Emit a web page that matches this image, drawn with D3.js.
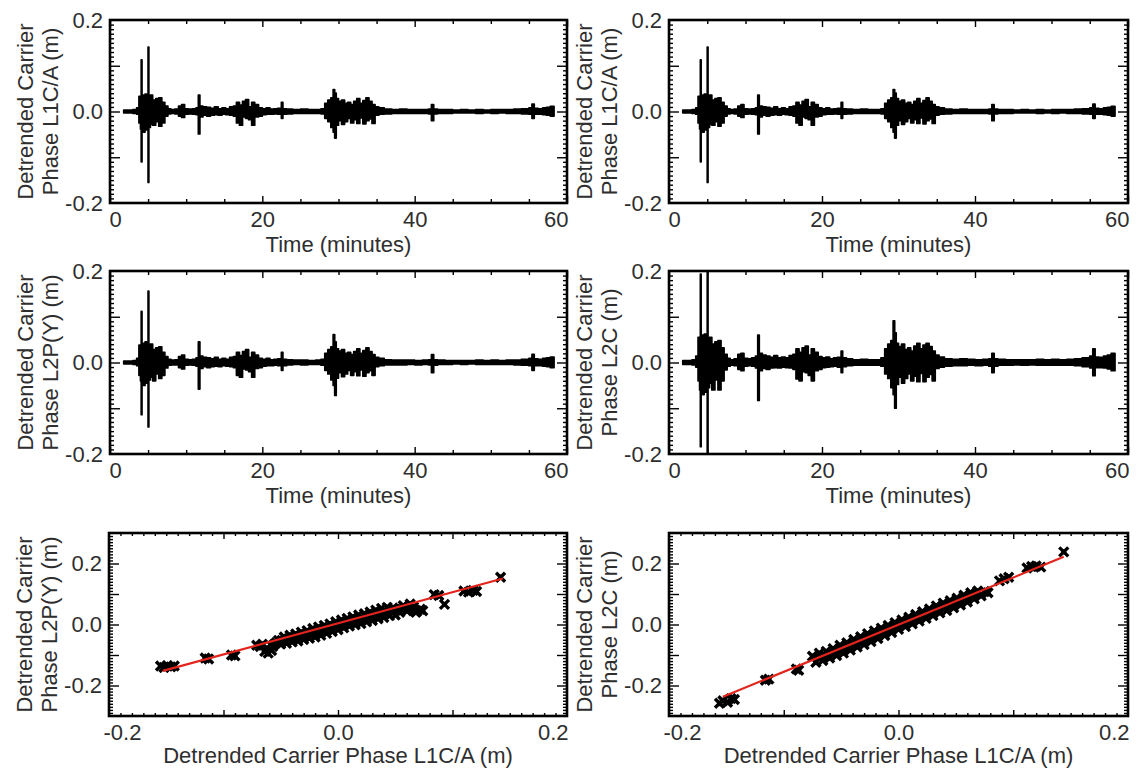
<!DOCTYPE html>
<html>
<head>
<meta charset="utf-8">
<script src="https://cdn.jsdelivr.net/npm/d3@7"></script>
<style>
  body { margin: 0; background: #fff; }
  text { font-family: "Liberation Sans", Arial, sans-serif; }
</style>
</head>
<body>
<svg id="fig" width="1139" height="771"></svg>
<script>
// time axis samples (minutes) and envelope of the detrended phase (mm)
const minutes = [1.8, 2.4, 3.0, 3.5, 3.8, 4.0, 4.1, 4.2, 4.4, 4.6, 4.8, 5.0, 5.1, 5.3, 5.6,
  6.0, 6.4, 6.8, 7.2, 7.6, 8.0, 8.5, 9.0, 9.4, 9.8, 10.3, 10.8, 11.3, 11.6, 11.8,
  12.2, 12.7, 13.2, 13.7, 14.2, 14.7, 15.2, 15.7, 16.2, 16.6, 17.0, 17.4, 17.8, 18.2, 18.6,
  19.0, 19.5, 20.0, 20.5, 21.0, 21.5, 22.0, 22.5, 22.7, 23.2, 24.0, 25.0, 26.0, 27.0, 27.7,
  28.2, 28.6, 29.0, 29.3, 29.5, 29.7, 30.0, 30.4, 30.8, 31.2, 31.6, 32.0, 32.4, 32.8, 33.2,
  33.6, 34.0, 34.4, 34.8, 35.3, 36.0, 37.0, 38.0, 39.0, 40.0, 41.0, 41.8, 42.2, 42.5, 43.0,
  44.0, 45.0, 46.0, 47.0, 48.0, 49.0, 50.0, 51.0, 52.0, 53.0, 54.0, 55.0, 55.4, 55.7, 56.2,
  56.8, 57.3, 57.8, 58.3];

const l1Upper = [3, 3, 4, 8, 33, 30, 113, 36, 30, 38, 34, 141, 30, 36, 25,
  28, 30, 20, 12, 6, 4, 5, 12, 15, 6, 5, 6, 8, 36, 12,
  10, 9, 7, 10, 6, 8, 6, 10, 12, 20, 14, 22, 26, 10, 20,
  15, 8, 6, 8, 5, 6, 7, 20, 6, 5, 4, 5, 4, 4, 6,
  18, 25, 30, 48, 40, 28, 22, 25, 18, 20, 15, 22, 28, 18, 24,
  30, 22, 15, 10, 8, 5, 4, 5, 4, 4, 4, 5, 15, 5, 4,
  4, 3, 4, 3, 4, 3, 4, 4, 4, 5, 6, 8, 16, 7, 6,
  8, 9, 11, 8];
const l1Lower = [-3, -3, -4, -6, -25, -38, -110, -30, -45, -35, -40, -155, -35, -28, -30,
  -22, -32, -25, -10, -5, -4, -5, -10, -13, -6, -5, -6, -7, -49, -12,
  -8, -10, -8, -7, -8, -6, -7, -8, -10, -25, -30, -12, -15, -18, -30,
  -12, -10, -7, -6, -6, -5, -6, -15, -6, -5, -4, -4, -4, -4, -5,
  -15, -22, -35, -45, -58, -30, -20, -28, -22, -15, -25, -18, -26, -14, -27,
  -20, -16, -26, -8, -6, -5, -4, -4, -4, -4, -4, -5, -20, -5, -4,
  -4, -3, -3, -3, -4, -3, -4, -3, -4, -4, -5, -6, -15, -6, -6,
  -7, -8, -10, -8];

const l2pUpper = [3, 3, 4, 9, 38, 34, 112, 42, 35, 45, 38, 156, 34, 40, 28,
  32, 34, 22, 13, 7, 5, 6, 13, 16, 7, 6, 7, 10, 45, 14,
  11, 10, 8, 11, 7, 9, 7, 11, 13, 22, 15, 24, 28, 11, 22,
  16, 9, 7, 9, 6, 7, 8, 22, 7, 6, 5, 5, 4, 5, 7,
  20, 28, 34, 61, 45, 30, 25, 28, 20, 22, 17, 24, 30, 20, 26,
  32, 24, 17, 11, 9, 6, 5, 5, 5, 4, 5, 6, 17, 6, 5,
  4, 4, 4, 4, 5, 4, 5, 4, 5, 5, 7, 9, 18, 8, 7,
  9, 10, 12, 9];
const l2pLower = [-3, -3, -4, -7, -28, -40, -114, -35, -50, -42, -45, -141, -38, -32, -40,
  -25, -35, -28, -12, -6, -5, -5, -11, -14, -6, -5, -6, -8, -58, -13,
  -9, -11, -9, -8, -9, -7, -8, -9, -11, -28, -32, -14, -16, -20, -32,
  -13, -11, -8, -7, -7, -6, -7, -17, -7, -5, -4, -5, -4, -4, -6,
  -17, -25, -38, -50, -72, -34, -22, -31, -25, -17, -28, -20, -29, -16, -30,
  -22, -18, -28, -9, -7, -5, -5, -5, -4, -5, -4, -5, -22, -6, -4,
  -4, -3, -4, -3, -4, -4, -4, -4, -4, -5, -6, -7, -17, -7, -7,
  -8, -9, -11, -9];

const l2cUpper = [4, 4, 6, 14, 55, 50, 193, 60, 50, 62, 55, 240, 50, 55, 40,
  45, 48, 32, 18, 9, 6, 8, 18, 20, 9, 8, 10, 14, 60, 20,
  16, 14, 11, 15, 10, 12, 10, 15, 18, 30, 22, 32, 36, 16, 30,
  22, 13, 10, 12, 8, 10, 11, 25, 10, 8, 6, 7, 6, 6, 10,
  30, 40, 48, 91, 65, 42, 35, 40, 28, 32, 25, 36, 42, 30, 38,
  42, 35, 25, 16, 12, 8, 7, 8, 7, 6, 7, 8, 20, 8, 7,
  6, 6, 6, 6, 7, 6, 7, 6, 7, 8, 10, 14, 30, 12, 11,
  14, 16, 20, 15];
const l2cLower = [-4, -4, -5, -10, -40, -60, -184, -55, -70, -60, -65, -260, -55, -45, -60,
  -38, -60, -40, -16, -8, -6, -7, -15, -18, -8, -7, -8, -12, -83, -18,
  -13, -15, -12, -11, -12, -10, -11, -12, -15, -36, -40, -20, -22, -28, -40,
  -18, -15, -11, -10, -9, -8, -10, -22, -9, -7, -6, -6, -6, -6, -8,
  -25, -35, -55, -70, -100, -48, -32, -45, -35, -25, -40, -30, -42, -24, -42,
  -32, -26, -40, -13, -10, -8, -7, -7, -6, -7, -6, -8, -22, -8, -6,
  -6, -5, -6, -5, -6, -6, -6, -6, -6, -7, -9, -12, -29, -11, -11,
  -12, -14, -18, -15];

// scatter: L1C/A phase (x) against L2P(Y) and L2C phase (y), metres
const l2pScatterX = [-0.155, -0.152, -0.149, -0.146, -0.143, -0.116, -0.113, -0.093, -0.090,
  -0.071, -0.068, -0.066, -0.064, -0.061, -0.058, -0.057, -0.054, -0.052, -0.050,
  -0.047, -0.045, -0.042, -0.040, -0.037, -0.035, -0.032, -0.030, -0.027, -0.025,
  -0.022, -0.020, -0.017, -0.015, -0.012, -0.010, -0.007, -0.005, -0.002, 0.000,
  0.003, 0.005, 0.008, 0.010, 0.013, 0.015, 0.018, 0.020, 0.023, 0.025,
  0.028, 0.030, 0.033, 0.035, 0.038, 0.040, 0.043, 0.045, 0.048, 0.050,
  0.054, 0.057, 0.060, 0.063, 0.066, 0.069, 0.072, 0.084, 0.088, 0.093,
  0.110, 0.114, 0.118, 0.121, 0.142,
  -0.062, -0.056, -0.049, -0.044, -0.039, -0.034, -0.029, -0.024, -0.019, -0.014,
  -0.009, -0.004, 0.001, 0.006, 0.011, 0.016, 0.021, 0.026, 0.031, 0.036,
  0.041, 0.046, 0.051, 0.056, 0.061, 0.066, 0.068, 0.074];
const l2pScatterY = [-0.136, -0.141, -0.135, -0.139, -0.136, -0.110, -0.113, -0.100, -0.103,
  -0.068, -0.072, -0.065, -0.088, -0.094, -0.085, -0.072, -0.060, -0.052, -0.064,
  -0.041, -0.062, -0.035, -0.057, -0.031, -0.054, -0.025, -0.049, -0.020, -0.045,
  -0.013, -0.041, -0.008, -0.035, -0.003, -0.029, 0.002, -0.023, 0.009, -0.017,
  0.015, -0.011, 0.020, -0.005, 0.025, -0.001, 0.031, 0.003, 0.035, 0.009,
  0.041, 0.013, 0.047, 0.019, 0.053, 0.023, 0.056, 0.029, 0.054, 0.031,
  0.040, 0.062, 0.045, 0.067, 0.048, 0.044, 0.050, 0.098, 0.095, 0.066,
  0.110, 0.106, 0.112, 0.108, 0.155,
  -0.078, -0.066, -0.052, -0.048, -0.044, -0.040, -0.035, -0.030, -0.026, -0.020,
  -0.015, -0.008, -0.003, 0.003, 0.009, 0.014, 0.019, 0.024, 0.030, 0.035,
  0.040, 0.044, 0.047, 0.050, 0.055, 0.058, 0.040, 0.045];

const l2cScatterX = [-0.156, -0.153, -0.149, -0.146, -0.143, -0.116, -0.113, -0.089, -0.087,
  -0.075, -0.072, -0.069, -0.066, -0.063, -0.060, -0.057, -0.054, -0.051, -0.048,
  -0.045, -0.042, -0.039, -0.036, -0.033, -0.030, -0.027, -0.024, -0.021, -0.018,
  -0.015, -0.012, -0.009, -0.006, -0.003, 0.000, 0.003, 0.006, 0.009, 0.012,
  0.015, 0.018, 0.021, 0.024, 0.027, 0.030, 0.033, 0.036, 0.039, 0.042,
  0.045, 0.048, 0.051, 0.054, 0.057, 0.060, 0.063, 0.066, 0.069, 0.072,
  0.088, 0.092, 0.096, 0.112, 0.116, 0.120, 0.124, 0.144,
  -0.070, -0.064, -0.058, -0.052, -0.046, -0.040, -0.034, -0.028, -0.022, -0.016,
  -0.010, -0.004, 0.002, 0.008, 0.014, 0.020, 0.026, 0.032, 0.038, 0.044,
  0.050, 0.056, 0.062, 0.068, 0.075, 0.078];
const l2cScatterY = [-0.258, -0.250, -0.255, -0.243, -0.246, -0.183, -0.179, -0.146, -0.150,
  -0.104, -0.124, -0.094, -0.118, -0.088, -0.110, -0.079, -0.102, -0.068, -0.094,
  -0.060, -0.084, -0.049, -0.074, -0.040, -0.066, -0.030, -0.056, -0.021, -0.046,
  -0.012, -0.036, -0.003, -0.026, 0.006, -0.016, 0.015, -0.007, 0.024, 0.002,
  0.033, 0.011, 0.042, 0.020, 0.051, 0.029, 0.061, 0.038, 0.070, 0.046,
  0.078, 0.055, 0.086, 0.064, 0.096, 0.074, 0.104, 0.084, 0.110, 0.094,
  0.143, 0.150, 0.155, 0.185, 0.190, 0.192, 0.188, 0.238,
  -0.108, -0.102, -0.093, -0.083, -0.073, -0.063, -0.053, -0.043, -0.034, -0.024,
  -0.015, -0.005, 0.004, 0.013, 0.022, 0.031, 0.040, 0.049, 0.058, 0.067,
  0.076, 0.085, 0.094, 0.103, 0.108, 0.104];

// fitted lines (red)
const fitX = [-0.153, 0.144];
const fitL2P = [-0.152, 0.151];
const fitL2C = [-0.237, 0.222];

const timeTicks = [0, 20, 40, 60];
const phaseTicks = [-0.2, 0.0, 0.2];
const scatterTicks = [-0.2, 0.0, 0.2];

const svg = d3.select("#fig");
const fontSize = 22;
const fontFamily = '"Liberation Sans", Arial, sans-serif';
const textColor = "#2e2e2e";

// tick marks on all four sides, pointing inwards
function boxTicks(g, x, y, b, xVals, xLen, yVals, yLen) {
    const sides = [
        [d3.axisBottom(x).tickValues(xVals).tickSize(-xLen), `translate(0,${b.bottom})`],
        [d3.axisTop(x).tickValues(xVals).tickSize(-xLen), `translate(0,${b.top})`],
        [d3.axisLeft(y).tickValues(yVals).tickSize(-yLen), `translate(${b.left},0)`],
        [d3.axisRight(y).tickValues(yVals).tickSize(-yLen), `translate(${b.right},0)`]
    ];
    sides.forEach(([ax, tr]) => {
        g.append("g")
            .attr("transform", tr)
            .call(ax.tickFormat(""))
            .call(s => s.select(".domain").remove())
            .selectAll("line")
            .attr("stroke", "#000")
            .attr("stroke-width", 1.4);
    });
}

function labels(g, x, y, b, xVals, xFmt, yVals, xTitle, yTitle) {
    const bx = g.append("g")
        .attr("transform", `translate(0,${b.bottom})`)
        .call(d3.axisBottom(x).tickValues(xVals).tickSize(0).tickPadding(8).tickFormat(xFmt))
        .attr("font-size", fontSize).attr("font-family", fontFamily);
    bx.select(".domain").remove();
    bx.selectAll("text").attr("fill", textColor);
    // end labels sit inside the frame
    const txt = bx.selectAll("text").nodes();
    d3.select(txt[0]).attr("text-anchor", "start").attr("dx", xFmt(xVals[0]).startsWith("-") ? -6 : -1);
    d3.select(txt[txt.length - 1]).attr("text-anchor", "end").attr("dx", 1);

    const ly = g.append("g")
        .attr("transform", `translate(${b.left},0)`)
        .call(d3.axisLeft(y).tickValues(yVals).tickSize(0).tickPadding(7).tickFormat(d => d.toFixed(1)))
        .attr("font-size", fontSize).attr("font-family", fontFamily);
    ly.select(".domain").remove();
    ly.selectAll("text").attr("fill", textColor);

    g.append("text")
        .attr("x", (b.left + b.right) / 2)
        .attr("y", b.bottom + b.titleGap)
        .attr("text-anchor", "middle")
        .attr("font-size", fontSize)
        .attr("fill", textColor)
        .text(xTitle);

    const cy = (b.top + b.bottom) / 2;
    ["Detrended Carrier", yTitle].forEach((line, i) => {
        g.append("text")
            .attr("transform", `translate(${b.left - 77 + i * 25},${cy}) rotate(-90)`)
            .attr("text-anchor", "middle")
            .attr("font-size", fontSize)
            .attr("fill", textColor)
            .text(line);
    });
}

function frame(g, b) {
    g.append("rect")
        .attr("x", b.left).attr("y", b.top)
        .attr("width", b.right - b.left).attr("height", b.bottom - b.top)
        .attr("fill", "none")
        .attr("stroke", "#000")
        .attr("stroke-width", 2.6);
}

let clipCount = 0;
function timePanel(b, upper, lower, yTitle) {
    const g = svg.append("g");
    const x = d3.scaleLinear().domain([0, 60]).range([b.left, b.right]);
    const y = d3.scaleLinear().domain([-0.2, 0.2]).range([b.bottom, b.top]);

    const id = "clip" + (clipCount++);
    g.append("clipPath").attr("id", id)
        .append("rect")
        .attr("x", b.left).attr("y", b.top)
        .attr("width", b.right - b.left).attr("height", b.bottom - b.top);

    const area = d3.area()
        .curve(d3.curveStepAfter)
        .x((d, i) => x(minutes[i]))
        .y0((d, i) => y(lower[i] / 1000))
        .y1((d, i) => y(upper[i] / 1000));

    g.append("path")
        .datum(minutes)
        .attr("d", area)
        .attr("fill", "#000")
        .attr("stroke", "#000")
        .attr("stroke-width", 1.7)
        .attr("stroke-linejoin", "round")
        .attr("clip-path", `url(#${id})`);

    boxTicks(g, x, y, b, d3.range(0, 61, 5).filter(v => v % 20 !== 0), 4,
        d3.range(-20, 21, 1).filter(v => v % 10 !== 0).map(v => v / 100), 4);
    boxTicks(g, x, y, b, timeTicks, 7, [-0.1, 0, 0.1], 10);
    frame(g, b);
    labels(g, x, y, b, timeTicks, d => String(d), phaseTicks, "Time (minutes)", yTitle);
}

function scatterPanel(b, xs, ys, fitY, yTitle) {
    const g = svg.append("g");
    const x = d3.scaleLinear().domain([-0.2, 0.2]).range([b.left, b.right]);
    const y = d3.scaleLinear().domain([-0.3, 0.3]).range([b.bottom, b.top]);

    const marks = g.selectAll(".mark")
        .data(xs)
        .join("g")
        .attr("class", "mark")
        .attr("transform", (d, i) => `translate(${x(d)},${y(ys[i])})`);
    marks.append("path")
        .attr("d", "M-4.5,-4.5L4.5,4.5M-4.5,4.5L4.5,-4.5")
        .attr("stroke", "#000")
        .attr("stroke-width", 3.4);
    marks.append("rect")
        .attr("x", -2.5).attr("y", -2.5)
        .attr("width", 5).attr("height", 5)
        .attr("fill", "#000");

    g.append("path")
        .datum(fitX)
        .attr("d", d3.line().x(d => x(d)).y((d, i) => y(fitY[i])))
        .attr("fill", "none")
        .attr("stroke", "#e3241c")
        .attr("stroke-width", 2.2);

    boxTicks(g, x, y, b, d3.range(-20, 21, 1).filter(v => v % 10 !== 0).map(v => v / 100), 3,
        d3.range(-30, 31, 1).filter(v => v % 10 !== 0).map(v => v / 100), 4);
    boxTicks(g, x, y, b, [-0.1, 0, 0.1], 6, [-0.2, -0.1, 0, 0.1, 0.2], 10);
    frame(g, b);
    labels(g, x, y, b, scatterTicks, d => d.toFixed(1), [-0.2, 0, 0.2],
        "Detrended Carrier Phase L1C/A (m)", yTitle);
}

timePanel({ left: 110, right: 567, top: 20, bottom: 203, titleGap: 49 }, l1Upper, l1Lower, "Phase L1C/A (m)");
timePanel({ left: 669, right: 1128, top: 20, bottom: 203, titleGap: 49 }, l1Upper, l1Lower, "Phase L1C/A (m)");
timePanel({ left: 110, right: 567, top: 271, bottom: 454, titleGap: 49 }, l2pUpper, l2pLower, "Phase L2P(Y) (m)");
timePanel({ left: 669, right: 1128, top: 271, bottom: 454, titleGap: 49 }, l2cUpper, l2cLower, "Phase L2C (m)");
scatterPanel({ left: 109, right: 567, top: 533, bottom: 716, titleGap: 47 }, l2pScatterX, l2pScatterY, fitL2P, "Phase L2P(Y) (m)");
scatterPanel({ left: 669, right: 1128, top: 533, bottom: 716, titleGap: 47 }, l2cScatterX, l2cScatterY, fitL2C, "Phase L2C (m)");
</script>
</body>
</html>
